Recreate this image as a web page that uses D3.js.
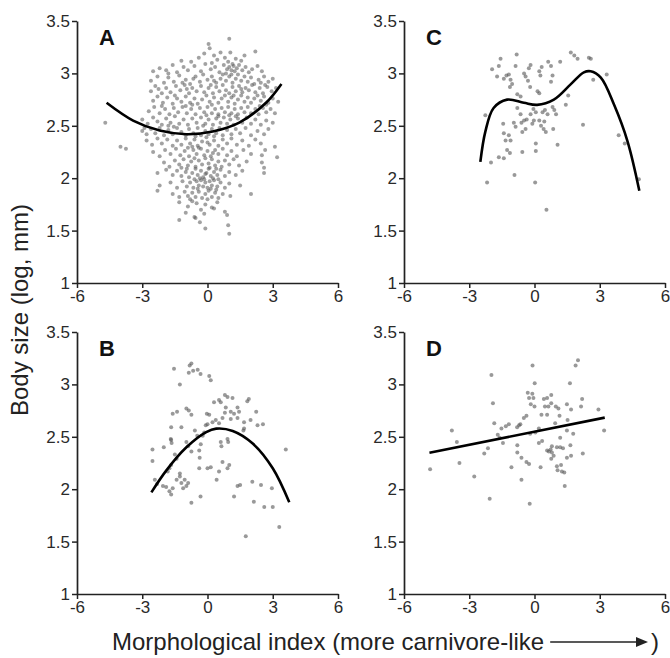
<!DOCTYPE html>
<html>
  <head>
    <meta http-equiv="Content-Type" content="text/html; charset=UTF-8">
    <script type="text/javascript" src="https://cdn.jsdelivr.net/npm/d3@7"></script>
    <style>
      body { margin: 0; background: #fff; }
      #chart { width: 670px; height: 658px; }
      text { font-family: "Liberation Sans", Arial, sans-serif; }
    </style>
  </head>
  <body>
    <div id="chart"></div>
    <script>
// panel A: all species
var pointsA = [
  [1.0,3.33],[0.1,3.24],[-0.15,3.19],[-0.75,3.11],[0.3,3.17],[0.45,3.13],[0.8,3.15],[1.05,3.2],[1.3,3.14],[1.55,3.12],[2.2,3.21],[0.6,3.2],[-0.4,3.15],[0.2,3.1],[1.7,3.17],[-1.2,3.12],[0.95,3.11],[0.05,3.28],
  [-2.5,3.02],[-2.2,3.05],[-1.9,3.03],[-1.6,3.08],[-1.4,3.01],[-1.1,3.06],[-0.9,3.03],[-0.6,3.07],[-0.3,3.02],[-0.1,3.09],[0.15,3.04],[0.35,3.06],[0.55,3.01],[0.75,3.08],[0.9,3.04],[1.0,3.06],[1.1,3.03],[1.2,3.07],[1.25,3.02],[1.35,3.05],[1.45,3.08],[1.6,3.03],[1.75,3.06],[1.9,3.01],[2.05,3.04],[2.3,3.07],[0.85,3.0],[1.15,3.09],[-1.8,3.0],[2.5,3.02],
  [-2.6,2.93],[-2.3,2.97],[-2.0,2.91],[-1.8,2.96],[-1.55,2.92],[-1.3,2.98],[-1.0,2.94],[-0.8,2.9],[-0.55,2.97],[-0.35,2.92],[-0.2,2.99],[0.0,2.94],[0.2,2.97],[0.4,2.91],[0.6,2.95],[0.7,2.99],[0.85,2.93],[1.0,2.97],[1.15,2.91],[1.3,2.95],[1.4,2.99],[1.55,2.93],[1.7,2.97],[1.85,2.92],[2.0,2.96],[2.15,2.9],[2.35,2.94],[2.6,2.97],[2.8,2.92],[3.0,2.95],[-1.15,2.91],[0.3,2.93],[1.1,2.99],[-0.65,2.95],[2.45,2.91],
  [-2.6,2.83],[-2.4,2.88],[-2.1,2.81],[-1.9,2.86],[-1.7,2.82],[-1.45,2.88],[-1.25,2.84],[-1.05,2.89],[-0.85,2.81],[-0.7,2.86],[-0.5,2.83],[-0.3,2.88],[-0.15,2.82],[0.05,2.86],[0.25,2.81],[0.4,2.87],[0.55,2.83],[0.7,2.89],[0.85,2.84],[1.0,2.81],[1.15,2.87],[1.3,2.83],[1.45,2.88],[1.6,2.82],[1.75,2.86],[1.9,2.84],[2.05,2.89],[2.2,2.82],[2.4,2.86],[2.55,2.81],[2.75,2.87],[2.95,2.83],[3.15,2.86],[-2.25,2.85],[0.15,2.89],[-0.95,2.85],[1.55,2.85],[2.65,2.89],
  [-2.5,2.74],[-2.3,2.78],[-2.05,2.72],[-1.85,2.77],[-1.6,2.71],[-1.4,2.76],[-1.2,2.73],[-1.0,2.78],[-0.8,2.72],[-0.6,2.76],[-0.45,2.71],[-0.25,2.75],[-0.05,2.79],[0.1,2.73],[0.3,2.77],[0.5,2.72],[0.65,2.76],[0.8,2.79],[0.95,2.73],[1.1,2.77],[1.25,2.71],[1.4,2.75],[1.55,2.79],[1.7,2.73],[1.85,2.77],[2.0,2.72],[2.15,2.76],[2.3,2.79],[2.45,2.74],[2.6,2.78],[2.8,2.72],[3.0,2.76],[3.25,2.73],[-1.5,2.79],[0.2,2.7],[1.2,2.79],[2.7,2.7],[-0.7,2.7],
  [-2.7,2.64],[-2.45,2.68],[-2.2,2.62],[-1.95,2.66],[-1.75,2.61],[-1.55,2.67],[-1.35,2.63],[-1.15,2.68],[-0.95,2.62],[-0.75,2.66],[-0.55,2.61],[-0.35,2.67],[-0.15,2.63],[0.0,2.68],[0.2,2.62],[0.35,2.66],[0.5,2.61],[0.65,2.67],[0.8,2.63],[0.95,2.68],[1.1,2.62],[1.25,2.66],[1.4,2.61],[1.55,2.67],[1.7,2.63],[1.85,2.68],[2.0,2.62],[2.2,2.66],[2.35,2.61],[2.55,2.67],[2.7,2.63],[2.9,2.66],[3.1,2.62],[-0.05,2.6],[-1.0,2.69],[1.0,2.6],[2.4,2.69],[-2.1,2.69],
  [-4.7,2.53],[-3.0,2.56],[-2.75,2.52],[-2.5,2.58],[-2.3,2.54],[-2.1,2.51],[-1.9,2.57],[-1.7,2.53],[-1.5,2.59],[-1.3,2.52],[-1.1,2.56],[-0.9,2.51],[-0.7,2.57],[-0.5,2.53],[-0.3,2.58],[-0.1,2.52],[0.05,2.56],[0.25,2.51],[0.4,2.57],[0.6,2.53],[0.75,2.58],[0.9,2.52],[1.05,2.56],[1.2,2.51],[1.4,2.57],[1.6,2.53],[1.8,2.58],[2.0,2.52],[2.2,2.56],[2.45,2.51],[2.7,2.55],[3.0,2.53],[-0.2,2.5],[0.5,2.59],[-1.8,2.5],[1.3,2.59],
  [-3.0,2.45],[-2.8,2.42],[-2.6,2.47],[-2.4,2.43],[-2.2,2.48],[-2.0,2.41],[-1.8,2.46],[-1.6,2.42],[-1.4,2.48],[-1.2,2.44],[-1.0,2.41],[-0.85,2.47],[-0.65,2.43],[-0.45,2.48],[-0.3,2.41],[-0.1,2.45],[0.05,2.42],[0.2,2.47],[0.4,2.43],[0.55,2.48],[0.7,2.41],[0.9,2.46],[1.1,2.42],[1.3,2.47],[1.5,2.43],[1.75,2.48],[2.0,2.41],[2.3,2.45],[2.6,2.42],[2.8,2.47],[-2.9,2.48],[-0.55,2.4],[0.3,2.4],[-1.55,2.49],
  [-4.0,2.3],[-3.75,2.28],[-2.8,2.36],[-2.55,2.32],[-2.3,2.38],[-2.1,2.33],[-1.85,2.37],[-1.6,2.31],[-1.4,2.36],[-1.2,2.32],[-1.0,2.38],[-0.8,2.33],[-0.6,2.37],[-0.45,2.31],[-0.25,2.35],[-0.05,2.39],[0.1,2.32],[0.3,2.36],[0.5,2.31],[0.7,2.37],[0.9,2.33],[1.1,2.38],[1.35,2.32],[1.6,2.36],[1.9,2.31],[2.2,2.37],[2.45,2.33],[3.1,2.3],[-0.7,2.3],[0.0,2.34],
  [-2.5,2.25],[-2.2,2.21],[-1.95,2.27],[-1.7,2.23],[-1.45,2.28],[-1.25,2.22],[-1.05,2.26],[-0.85,2.21],[-0.65,2.27],[-0.5,2.23],[-0.3,2.28],[-0.15,2.22],[0.0,2.26],[0.15,2.21],[0.35,2.27],[0.5,2.23],[0.7,2.28],[0.9,2.22],[1.1,2.26],[1.35,2.21],[1.65,2.27],[2.0,2.23],[2.5,2.22],[3.2,2.2],[-0.4,2.29],[0.25,2.24],[-0.9,2.29],[2.65,2.27],
  [-2.0,2.15],[-1.75,2.11],[-1.5,2.17],[-1.3,2.13],[-1.1,2.18],[-0.9,2.12],[-0.75,2.16],[-0.55,2.11],[-0.4,2.17],[-0.25,2.13],[-0.1,2.19],[0.05,2.14],[0.2,2.18],[0.35,2.12],[0.5,2.16],[0.65,2.11],[0.8,2.17],[1.0,2.13],[1.2,2.18],[1.45,2.12],[1.8,2.16],[2.5,2.15],[2.6,2.1],[-0.6,2.19],[0.1,2.1],[-1.2,2.1],
  [-2.3,2.05],[-1.9,2.08],[-1.6,2.03],[-1.4,2.07],[-1.2,2.02],[-1.0,2.06],[-0.85,2.01],[-0.7,2.05],[-0.55,2.09],[-0.45,2.03],[-0.3,2.07],[-0.2,2.01],[-0.05,2.05],[0.05,2.09],[0.15,2.02],[0.3,2.06],[0.45,2.03],[0.6,2.08],[0.8,2.02],[1.0,2.06],[1.3,2.03],[1.6,2.07],[2.6,2.05],[-0.35,2.0],[0.25,2.0],[-0.95,2.09],[-0.1,2.04],[0.4,2.09],
  [-2.2,1.93],[-1.7,1.96],[-1.4,1.91],[-1.15,1.97],[-0.95,1.92],[-0.8,1.96],[-0.65,1.91],[-0.5,1.97],[-0.4,1.93],[-0.3,1.98],[-0.2,1.92],[-0.1,1.96],[0.0,1.91],[0.1,1.97],[0.2,1.93],[0.3,1.98],[0.45,1.92],[0.6,1.96],[0.8,1.91],[1.0,1.95],[1.5,1.93],[-0.6,1.99],[-0.15,1.99],[0.15,1.9],[-0.45,1.9],[0.5,1.99],
  [-2.3,1.88],[-1.6,1.85],[-1.3,1.82],[-1.05,1.87],[-0.9,1.83],[-0.7,1.86],[-0.55,1.82],[-0.4,1.87],[-0.25,1.81],[-0.1,1.85],[0.05,1.88],[0.2,1.82],[0.35,1.86],[0.5,1.81],[0.7,1.85],[1.05,1.83],[2.0,1.85],[-0.8,1.8],[0.0,1.8],[0.4,1.89],
  [-1.3,1.77],[-0.9,1.73],[-0.5,1.76],[-0.3,1.7],[-0.1,1.75],[0.2,1.72],[0.45,1.77],[0.8,1.68],[0.9,1.65],[-1.0,1.67],[-0.6,1.63],[-0.15,1.66],[0.3,1.71],[-0.7,1.78],
  [-1.3,1.6],[-0.55,1.62],[-0.1,1.52],[0.95,1.55],[1.0,1.47],[-0.35,1.58]
];
var curveA = [[-4.64,2.72],[-3.42,2.55],[-2.2,2.455],[-0.98,2.42],[0.24,2.445],[1.46,2.53],[2.69,2.72],[3.4,2.9]];

// panel B
var pointsB = [
  [-2.53,2.38],[-2.53,2.27],[-2.42,2.09],[-2.32,2.05],[-2.01,2.40],[-2.05,2.03],[-1.9,2.02],[-1.75,1.98],[-1.67,1.95],[-1.6,2.01],
  [-1.83,2.17],[-1.75,2.2],[-1.67,2.23],[-1.67,2.47],[-1.65,2.44],[-1.69,2.48],[-1.67,2.59],[-1.6,2.72],[-1.4,2.74],[-1.54,3.15],
  [-1.5,2.33],[-1.42,2.29],[-1.42,2.09],[-1.27,2.12],[-1.2,2.06],[-1.05,2.09],[-0.89,2.06],[-0.97,2.03],[-1.12,2.01],[-1.27,2.15],
  [-1.27,3.0],[-1.2,2.59],[-0.97,2.77],[-0.86,2.75],[-0.74,2.71],[-0.89,2.41],[-0.74,2.36],[-0.82,3.18],[-0.74,3.2],[-0.86,3.11],
  [-0.66,3.13],[-0.74,1.87],[-0.58,2.56],[-0.47,2.51],[-0.45,3.14],[-0.32,3.1],[-0.38,2.2],[-0.32,1.93],[-0.38,2.37],[-0.36,2.30],
  [-0.31,2.43],[-0.22,2.51],[-0.15,2.54],[-0.03,2.72],[0.08,2.71],[0.08,3.08],[0.15,3.04],[-0.08,2.61],[0.0,2.62],[0.0,2.2],
  [0.15,2.21],[0.23,2.64],[0.38,2.66],[0.53,2.63],[0.42,2.09],[0.53,2.17],[0.3,2.83],[0.53,2.85],[0.61,2.83],[0.69,2.68],
  [0.8,2.73],[0.8,2.90],[0.92,2.88],[1.15,2.87],[0.84,2.78],[1.07,2.74],[0.92,2.48],[0.95,2.45],[0.61,2.45],[0.64,2.41],
  [0.69,2.26],[1.0,2.23],[0.92,2.2],[1.07,2.67],[1.22,2.72],[1.38,2.68],[1.38,2.78],[1.45,2.74],[1.38,2.03],[1.5,2.04],
  [1.22,1.93],[1.68,2.64],[1.68,2.58],[1.65,2.56],[1.83,2.84],[1.9,2.86],[1.76,1.55],[2.06,2.07],[2.13,1.88],[1.98,2.66],
  [2.24,2.74],[2.3,2.61],[2.55,2.62],[2.46,2.04],[2.61,1.83],[3.0,1.83],[2.96,2.01],[3.3,1.64],[3.6,2.38],[-0.97,2.45]
];
var curveB = [[-2.58,1.97],[-1.89,2.18],[-0.97,2.40],[-0.06,2.545],[0.4,2.578],[1.16,2.556],[2.08,2.436],[3.0,2.2],[3.76,1.875]];

// panel C
var pointsC = [
  [-2.26,2.60],[-2.18,1.96],[-2.0,2.15],[-1.95,3.04],[-1.72,2.97],[-1.64,3.07],[-1.56,3.14],[-1.64,2.20],[-1.41,2.19],[-1.44,2.52],
  [-1.41,2.43],[-1.33,2.36],[-1.26,2.27],[-1.13,2.24],[-1.41,2.95],[-1.29,2.98],[-1.18,2.99],[-1.1,2.94],[-1.03,2.90],[-1.13,2.87],
  [-0.92,2.03],[-0.87,3.07],[-0.82,3.18],[-0.79,2.80],[-0.64,2.78],[-0.79,2.67],[-0.64,2.61],[-0.6,2.53],[-0.48,2.55],[-0.36,2.56],
  [-0.56,2.44],[-0.41,2.47],[-0.56,2.25],[-0.48,3.0],[-0.41,2.97],[-0.3,2.93],[-0.26,3.05],[-0.18,3.08],[-0.2,2.87],[-0.05,2.66],
  [0.06,2.63],[-0.03,2.55],[0.06,2.26],[0.03,1.96],[0.14,2.83],[0.22,2.81],[0.22,3.02],[0.33,3.06],[0.27,2.98],[0.37,2.63],
  [0.48,2.65],[0.6,2.61],[0.45,2.54],[0.52,2.44],[0.42,2.47],[0.55,1.70],[0.63,3.11],[0.76,3.07],[0.83,2.98],[0.76,2.92],
  [0.83,2.68],[0.91,2.65],[0.99,2.61],[0.86,2.47],[1.06,2.32],[1.18,3.11],[1.44,2.70],[1.55,2.79],[1.67,3.20],[1.83,3.17],
  [1.98,3.14],[2.5,3.15],[2.59,3.14],[2.23,2.51],[2.7,2.94],[3.32,2.99],[3.87,2.41],[4.15,2.33],[4.8,1.99],[-1.1,2.36],
  [-1.18,2.41],[-0.95,2.53],[-0.87,2.49],[-0.18,2.61],[-0.1,2.52],[0.22,2.55],[0.3,2.50],[0.06,2.33]
];
var curveC = [[-2.49,2.155],[-2.26,2.445],[-1.88,2.67],[-1.26,2.75],[-0.49,2.72],[0.12,2.70],[0.89,2.75],[1.66,2.895],[2.27,3.01],[2.58,3.02],[3.05,2.96],[3.66,2.70],[4.28,2.35],[4.82,1.88]];

// panel D
var pointsD = [
  [-4.80,2.19],[-3.80,2.56],[-3.57,2.45],[-3.45,2.25],[-2.77,2.12],[-2.31,2.34],[-2.14,2.39],[-2.06,1.91],[-1.98,3.09],[-1.91,2.82],
  [-1.85,2.63],[-1.69,2.52],[-1.52,2.58],[-1.32,2.60],[-1.45,2.44],[-1.06,2.21],[-0.80,2.59],[-0.71,2.61],[-0.79,2.42],[-0.79,2.35],
  [-0.60,2.30],[-0.60,2.09],[-0.49,2.68],[-0.37,2.70],[-0.37,2.26],[-0.25,2.24],[-0.22,1.86],[-0.09,3.18],[0.01,3.01],[-0.31,2.92],
  [-0.1,2.91],[-0.25,2.87],[-0.05,2.87],[-0.17,2.81],[0.0,2.79],[0.2,2.58],[0.2,2.44],[0.28,2.21],[0.32,2.71],[0.43,2.86],
  [0.58,2.87],[0.77,2.90],[0.48,2.79],[0.64,2.79],[0.77,2.82],[0.58,2.71],[0.98,2.79],[1.1,2.77],[0.95,2.63],[0.58,2.37],
  [0.74,2.38],[0.66,2.36],[0.8,2.41],[0.88,2.32],[1.03,2.40],[1.18,2.40],[1.31,2.39],[1.18,2.49],[1.15,2.70],[1.03,2.22],
  [1.06,2.18],[1.26,2.17],[1.37,2.16],[1.22,2.23],[1.39,2.03],[1.49,2.30],[1.63,3.01],[1.49,2.56],[1.52,2.66],[1.65,2.42],
  [1.68,2.32],[1.78,2.53],[1.68,2.76],[1.89,3.18],[2.0,3.23],[2.19,2.86],[2.14,2.79],[2.22,2.34],[2.94,2.76],[3.2,2.56],
  [1.49,2.81],[0.04,2.54],[-0.2,2.53],[-0.65,2.62],[-1.18,2.62],[0.35,2.46],[-1.6,2.49],[0.77,2.29],[0.8,2.35]
];
var lineD = [[-4.83,2.348],[3.23,2.683]];

var xTicks = [-6, -3, 0, 3, 6];
var yTicks = [1, 1.5, 2, 2.5, 3, 3.5];

var width = 670, height = 658;
var colX = [77, 404], panelW = 261;
var rowTop = [21, 332], panelH = 262;

var svg = d3.select("#chart").append("svg")
    .attr("width", width)
    .attr("height", height);

var panels = [
  {label: "A", col: 0, row: 0, pts: pointsA, fit: curveA, curve: d3.curveCatmullRom, op: 0.55},
  {label: "B", col: 0, row: 1, pts: pointsB, fit: curveB, curve: d3.curveCatmullRom, op: 0.6},
  {label: "C", col: 1, row: 0, pts: pointsC, fit: curveC, curve: d3.curveCatmullRom, op: 0.6},
  {label: "D", col: 1, row: 1, pts: pointsD, fit: lineD, curve: d3.curveLinear, op: 0.6}
];

panels.forEach(function (p) {
  var x0 = colX[p.col], y0 = rowTop[p.row];
  var x = d3.scaleLinear().domain([-6, 6]).range([x0, x0 + panelW]);
  var y = d3.scaleLinear().domain([1, 3.5]).range([y0 + panelH, y0]);
  var g = svg.append("g");

  // scatter
  g.append("g").selectAll("circle")
      .data(p.pts)
    .enter().append("circle")
      .attr("cx", function (d) { return x(d[0]); })
      .attr("cy", function (d) { return y(d[1]); })
      .attr("r", 2)
      .attr("fill", "#555")
      .attr("fill-opacity", p.op);

  // fitted curve
  g.append("path")
      .datum(p.fit)
      .attr("fill", "none")
      .attr("stroke", "#000")
      .attr("stroke-width", 2.6)
      .attr("d", d3.line()
        .x(function (d) { return x(d[0]); })
        .y(function (d) { return y(d[1]); })
        .curve(p.curve));

  // axes
  var ax = g.append("g")
      .attr("transform", "translate(0," + (y0 + panelH) + ")")
      .call(d3.axisBottom(x).tickValues(xTicks).tickSize(5).tickSizeOuter(0).tickPadding(2)
        .tickFormat(function (d) { return String(d); }));
  var ay = g.append("g")
      .attr("transform", "translate(" + x0 + ",0)")
      .call(d3.axisLeft(y).tickValues(yTicks).tickSize(5).tickSizeOuter(0).tickPadding(2)
        .tickFormat(function (d) { return String(d); }));
  [ax, ay].forEach(function (a) {
    a.select(".domain").attr("stroke", "#222").attr("stroke-width", 1.7);
    a.selectAll(".tick line").attr("stroke", "#222").attr("stroke-width", 1.5);
    a.selectAll(".tick text")
      .attr("fill", "#2a2a2a")
      .style("font-size", "17px")
      .style("font-family", "'Liberation Sans', Arial, sans-serif");
  });

  // panel letter
  g.append("text")
      .attr("x", x0 + 22)
      .attr("y", y0 + 24)
      .attr("font-size", "22px")
      .attr("font-weight", "bold")
      .attr("fill", "#111")
      .text(p.label);
});

// y title
svg.append("text")
    .attr("transform", "translate(28,310) rotate(-90)")
    .attr("text-anchor", "middle")
    .attr("font-size", "24px")
    .attr("fill", "#222")
    .text("Body size (log, mm)");

// x title with arrow
var xt = svg.append("text")
    .attr("x", 112)
    .attr("y", 650)
    .attr("font-size", "24px")
    .attr("fill", "#222")
    .text("Morphological index (more carnivore-like");
var endX = 112 + xt.node().getComputedTextLength();
var arrowY = 642;
svg.append("line")
    .attr("x1", endX + 6).attr("y1", arrowY)
    .attr("x2", 638).attr("y2", arrowY)
    .attr("stroke", "#222").attr("stroke-width", 1.6);
svg.append("path")
    .attr("d", "M636," + (arrowY - 5) + "L648," + arrowY + "L636," + (arrowY + 5) + "Z")
    .attr("fill", "#222");
svg.append("text")
    .attr("x", 651)
    .attr("y", 650)
    .attr("font-size", "24px")
    .attr("fill", "#222")
    .text(")");
    </script>
  </body>
</html>
